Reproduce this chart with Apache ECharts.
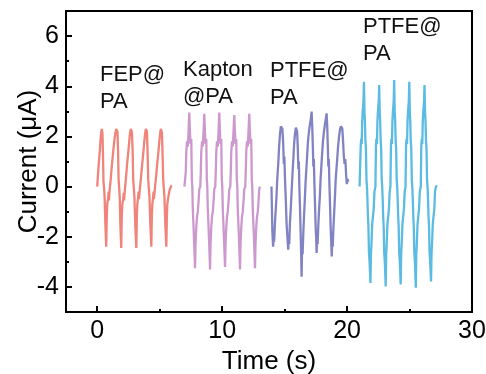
<!DOCTYPE html>
<html><head><meta charset="utf-8">
<script src="https://cdn.jsdelivr.net/npm/echarts@6/dist/echarts.min.js"></script>
<style>html,body{margin:0;padding:0;background:#fff}#c{width:486px;height:374px}</style>
</head><body><div id="c"></div>
<script>
var xTicks = [0, 10, 20, 30];
var xMinorTicks = [5, 15, 25];
var yTicks = [-4, -2, 0, 2, 4, 6];
var yMinorTicks = [-5, -3, -1, 1, 3, 5];
var labels = ['FEP@\nPA', 'Kapton\n@PA', 'PTFE@\nPA', 'PTFE@\nPA'];

var fepData = [
[0.00,0.00],[0.05,0.40],[0.12,0.90],[0.20,1.40],[0.27,1.90],[0.33,2.20],[0.37,2.30],[0.42,2.10],[0.46,1.30],[0.50,0.20],[0.54,0.00],[0.59,-0.40],[0.65,-1.50],[0.72,-2.40],
[0.76,-1.30],[0.80,-0.70],[0.88,-0.45],[0.91,-0.20],[0.94,-0.55],[0.99,-0.15],[1.08,0.30],[1.18,0.90],[1.28,1.40],[1.36,1.80],[1.44,2.10],[1.52,2.30],[1.57,2.35],[1.62,2.20],[1.67,1.40],[1.71,0.30],[1.75,0.00],[1.80,-0.40],[1.85,-1.50],[1.92,-2.45],
[1.96,-1.25],[2.00,-0.75],[2.08,-0.50],[2.12,-0.25],[2.15,-0.55],[2.20,-0.20],[2.30,0.35],[2.40,0.95],[2.50,1.45],[2.57,1.85],[2.63,2.15],[2.69,2.30],[2.73,2.35],[2.78,2.15],[2.84,1.35],[2.88,0.25],[2.92,0.00],[2.98,-0.45],[3.05,-1.60],[3.13,-2.45],
[3.17,-1.20],[3.21,-0.70],[3.27,-0.45],[3.31,-0.20],[3.34,-0.50],[3.40,-0.15],[3.50,0.35],[3.60,0.90],[3.70,1.40],[3.77,1.80],[3.83,2.10],[3.89,2.30],[3.93,2.35],[3.98,2.20],[4.03,1.40],[4.08,0.30],[4.12,0.00],[4.18,-0.40],[4.25,-1.50],[4.33,-2.40],
[4.37,-1.25],[4.41,-0.70],[4.47,-0.45],[4.51,-0.20],[4.54,-0.50],[4.60,-0.15],[4.70,0.35],[4.80,0.90],[4.90,1.40],[4.97,1.80],[5.03,2.10],[5.09,2.30],[5.13,2.30],[5.18,2.15],[5.23,1.30],[5.28,0.30],[5.32,0.00],[5.38,-0.40],[5.45,-1.50],[5.53,-2.40],
[5.57,-1.30],[5.61,-0.70],[5.68,-0.45],[5.75,-0.25],[5.82,-0.10],[5.90,0.00],[5.96,0.05]
];

var kaptonData = [
[6.98,0.00],[7.05,0.00],
[7.09,0.6],[7.13,1.4],[7.19,1.8],[7.25,1.6],[7.31,2.2],[7.37,2.95],[7.41,2.3],[7.47,1.7],[7.53,1.9],[7.57,0.3],[7.61,0.0],[7.65,-0.9],[7.71,-1.6],[7.77,-2.4],[7.83,-3.25],[7.87,-2.3],[7.93,-1.6],[7.99,-1.2],[8.05,-1.0],[8.11,-0.6],[8.17,-0.1],[8.25,0.0],
[8.29,0.6],[8.33,1.4],[8.39,1.8],[8.45,1.6],[8.51,2.2],[8.57,2.9],[8.61,2.3],[8.67,1.7],[8.73,1.9],[8.77,0.3],[8.81,0.0],[8.85,-0.9],[8.91,-1.6],[8.97,-2.4],[9.03,-3.3],[9.07,-2.3],[9.13,-1.6],[9.19,-1.2],[9.25,-1.0],[9.31,-0.6],[9.37,-0.1],[9.45,0.0],
[9.49,0.6],[9.53,1.4],[9.59,1.8],[9.65,1.6],[9.71,2.2],[9.77,2.95],[9.81,2.3],[9.87,1.7],[9.93,1.9],[9.97,0.3],[10.01,0.0],[10.05,-0.9],[10.11,-1.6],[10.17,-2.4],[10.23,-3.2],[10.27,-2.3],[10.33,-1.6],[10.39,-1.2],[10.45,-1.0],[10.51,-0.6],[10.57,-0.1],[10.65,0.0],
[10.69,0.6],[10.73,1.4],[10.79,1.8],[10.85,1.6],[10.91,2.2],[10.97,2.85],[11.01,2.3],[11.07,1.7],[11.13,1.9],[11.17,0.3],[11.21,0.0],[11.25,-0.9],[11.31,-1.6],[11.37,-2.4],[11.43,-3.3],[11.47,-2.3],[11.53,-1.6],[11.59,-1.2],[11.65,-1.0],[11.71,-0.6],[11.77,-0.1],[11.85,0.0],
[11.89,0.6],[11.93,1.4],[11.99,1.8],[12.05,1.6],[12.11,2.2],[12.17,2.9],[12.21,2.3],[12.27,1.7],[12.33,1.9],[12.37,0.3],[12.41,0.0],[12.45,-0.9],[12.51,-1.6],[12.57,-2.4],[12.63,-3.25],[12.67,-2.3],[12.73,-1.6],[12.79,-1.2],[12.85,-1.0],[12.91,-0.6],[12.97,-0.1],[13.03,0.0]
];

var ptfeData1 = [
[13.95,0.0],[13.98,-0.8],[14.02,-1.8],[14.08,-2.4],
[14.12,-2.0],[14.16,-2.2],[14.22,-1.5],[14.28,-1.0],[14.34,-0.5],[14.40,0.2],[14.45,0.6],[14.50,1.0],[14.56,1.6],[14.63,2.1],[14.70,2.4],[14.76,2.46],[14.82,2.3],[14.88,1.8],[14.94,0.9],[14.98,1.2],[15.03,0.3],[15.10,-0.6],[15.16,-1.5],[15.22,-2.0],[15.29,-2.52],
[15.33,-2.1],[15.37,-2.3],[15.42,-1.5],[15.48,-1.0],[15.54,-0.4],[15.60,0.2],[15.65,0.7],[15.70,1.1],[15.76,1.7],[15.83,2.1],[15.90,2.35],[15.95,2.39],[16.00,2.2],[16.05,1.6],[16.10,0.7],[16.14,1.0],[16.18,0.0],[16.24,-1.0],[16.29,-2.0],[16.33,-2.8],[16.36,-3.59],
[16.40,-2.4],[16.44,-2.7],[16.50,-1.8],[16.56,-1.1],[16.62,-0.5],[16.68,0.2],[16.74,0.7],[16.80,1.2],[16.87,1.8],[16.95,2.2],[17.03,2.5],[17.10,2.7],[17.16,2.99],[17.21,2.4],[17.26,1.6],[17.30,0.8],[17.34,1.1],[17.38,0.2],[17.44,-0.8],[17.49,-1.7],[17.53,-2.1],[17.56,-2.65],
[17.60,-2.1],[17.64,-2.3],[17.70,-1.5],[17.76,-0.9],[17.82,-0.4],[17.88,0.3],[17.94,0.8],[18.00,1.3],[18.07,1.8],[18.15,2.2],[18.23,2.5],[18.30,2.7],[18.36,2.92],[18.41,2.4],[18.46,1.6],[18.50,0.8],[18.54,1.1],[18.58,0.2],[18.64,-0.8],[18.69,-1.7],[18.73,-2.2],[18.77,-2.79],
[18.81,-2.2],[18.85,-2.4],[18.91,-1.6],[18.97,-1.0],[19.03,-0.4],[19.09,0.3],[19.15,0.7],[19.21,1.1],[19.28,1.6],[19.36,2.0],[19.44,2.3],[19.51,2.4],[19.57,2.46],[19.62,2.3],[19.68,1.8],[19.74,1.2],[19.80,0.9],[19.86,1.1],[19.92,0.5],[19.98,0.1],[20.04,0.3],[20.10,0.2]
];

var ptfeData2 = [
[21.00,0.0],
[21.05,0.0],[21.09,1.6],[21.13,1.9],[21.17,1.7],[21.21,2.6],[21.25,3.0],[21.31,3.4],[21.35,4.18],[21.39,3.0],[21.43,2.6],[21.47,1.8],[21.51,1.5],[21.55,0.3],[21.59,0.0],[21.63,-0.5],[21.67,-1.2],[21.71,-1.6],[21.75,-2.6],[21.81,-3.1],[21.87,-3.84],[21.91,-2.7],[21.95,-2.3],[22.01,-1.5],[22.07,-1.2],[22.13,-0.9],[22.19,-0.2],
[22.27,0.0],[22.31,1.6],[22.35,1.9],[22.39,1.7],[22.43,2.6],[22.47,3.0],[22.53,3.4],[22.57,4.05],[22.61,3.0],[22.65,2.6],[22.69,1.8],[22.73,1.5],[22.77,0.3],[22.81,0.0],[22.85,-0.5],[22.89,-1.2],[22.93,-1.6],[22.97,-2.6],[23.03,-3.1],[23.09,-3.98],[23.13,-2.7],[23.17,-2.3],[23.23,-1.5],[23.29,-1.2],[23.35,-0.9],[23.41,-0.2],
[23.47,0.0],[23.51,1.6],[23.55,1.9],[23.59,1.7],[23.63,2.6],[23.67,3.0],[23.73,3.4],[23.77,4.25],[23.81,3.0],[23.85,2.6],[23.89,1.8],[23.93,1.5],[23.97,0.3],[24.01,0.0],[24.05,-0.5],[24.09,-1.2],[24.13,-1.6],[24.17,-2.6],[24.23,-3.1],[24.29,-3.9],[24.33,-2.7],[24.37,-2.3],[24.43,-1.5],[24.49,-1.2],[24.55,-0.9],[24.61,-0.2],
[24.68,0.0],[24.72,1.6],[24.76,1.9],[24.80,1.7],[24.84,2.6],[24.88,3.0],[24.94,3.4],[24.98,4.18],[25.02,3.0],[25.06,2.6],[25.10,1.8],[25.14,1.5],[25.18,0.3],[25.22,0.0],[25.26,-0.5],[25.30,-1.2],[25.34,-1.6],[25.38,-2.6],[25.44,-3.1],[25.50,-4.03],[25.54,-2.7],[25.58,-2.3],[25.64,-1.5],[25.70,-1.2],[25.76,-0.9],[25.82,-0.2],
[25.90,0.0],[25.94,1.6],[25.98,1.9],[26.02,1.7],[26.06,2.6],[26.10,3.0],[26.16,3.4],[26.20,4.05],[26.24,3.0],[26.28,2.6],[26.32,1.8],[26.36,1.5],[26.40,0.3],[26.44,0.0],[26.48,-0.5],[26.52,-1.2],[26.56,-1.6],[26.60,-2.6],[26.66,-3.1],[26.72,-3.78],[26.76,-2.7],[26.80,-2.3],[26.86,-1.5],[26.92,-1.2],[26.98,-0.9],[27.04,-0.2],[27.12,0.0],[27.18,0.05]
];

var FONT = 'Liberation Sans, Arial, sans-serif';
var chart = echarts.init(document.getElementById('c'), null, {renderer: 'canvas'});

function lineSeries(name, data, color) {
  return {name: name, type: 'line', data: data, showSymbol: false, symbol: 'none',
    lineStyle: {color: color, width: 2.3}, itemStyle: {color: color}, animation: false, z: 3};
}

var labelPos = [[100, 61], [183, 56], [270, 57], [363, 13]];

chart.setOption({
  animation: false,
  grid: {left: 66, right: 14, top: 11, bottom: 62, outerBoundsMode: 'none', containLabel: false,
    show: true, borderColor: '#000', borderWidth: 2, backgroundColor: 'transparent'},
  xAxis: [{
    type: 'value', min: -2.5, max: 30,
    name: 'Time (s)', nameLocation: 'middle', nameGap: 33,
    nameTextStyle: {fontFamily: FONT, fontSize: 26, color: '#000'},
    axisLine: {show: true, onZero: false, lineStyle: {color: '#000', width: 2}},
    axisTick: {show: true, inside: true, length: 6, lineStyle: {color: '#000', width: 2}, customValues: xTicks},
    axisLabel: {show: true, fontFamily: FONT, fontSize: 25, color: '#000', margin: 7, customValues: xTicks},
    splitLine: {show: false}
  }, {
    type: 'value', min: -2.5, max: 30, position: 'bottom',
    axisLine: {show: false, onZero: false},
    axisTick: {show: true, inside: true, length: 3, lineStyle: {color: '#000', width: 2}, customValues: xMinorTicks},
    axisLabel: {show: false, customValues: xMinorTicks},
    splitLine: {show: false}
  }],
  yAxis: [{
    type: 'value', min: -5, max: 7,
    name: 'Current (\u03bcA)', nameLocation: 'middle', nameGap: 24, nameMoveOverlap: false,
    nameTextStyle: {fontFamily: FONT, fontSize: 26, color: '#000'},
    axisLine: {show: true, onZero: false, lineStyle: {color: '#000', width: 2}},
    axisTick: {show: true, inside: true, length: 6, lineStyle: {color: '#000', width: 2}, customValues: yTicks},
    axisLabel: {show: true, fontFamily: FONT, fontSize: 25, color: '#000', margin: 7, customValues: yTicks},
    splitLine: {show: false}
  }, {
    type: 'value', min: -5, max: 7, position: 'left',
    axisLine: {show: false, onZero: false},
    axisTick: {show: true, inside: true, length: 3, lineStyle: {color: '#000', width: 2}, customValues: yMinorTicks},
    axisLabel: {show: false, customValues: yMinorTicks},
    splitLine: {show: false}
  }],
  series: [
    lineSeries('FEP@PA', fepData, '#F0837A'),
    lineSeries('Kapton@PA', kaptonData, '#CC98CE'),
    lineSeries('PTFE@PA', ptfeData1, '#8183C2'),
    lineSeries('PTFE@PA 2', ptfeData2, '#5BBBE3')
  ],
  graphic: labels.map(function (t, i) {
    return {type: 'text', left: labelPos[i][0], top: labelPos[i][1], z: 10,
      style: {text: t, font: '22px ' + FONT, fill: '#111', lineHeight: 27}};
  })
});
</script></body></html>
